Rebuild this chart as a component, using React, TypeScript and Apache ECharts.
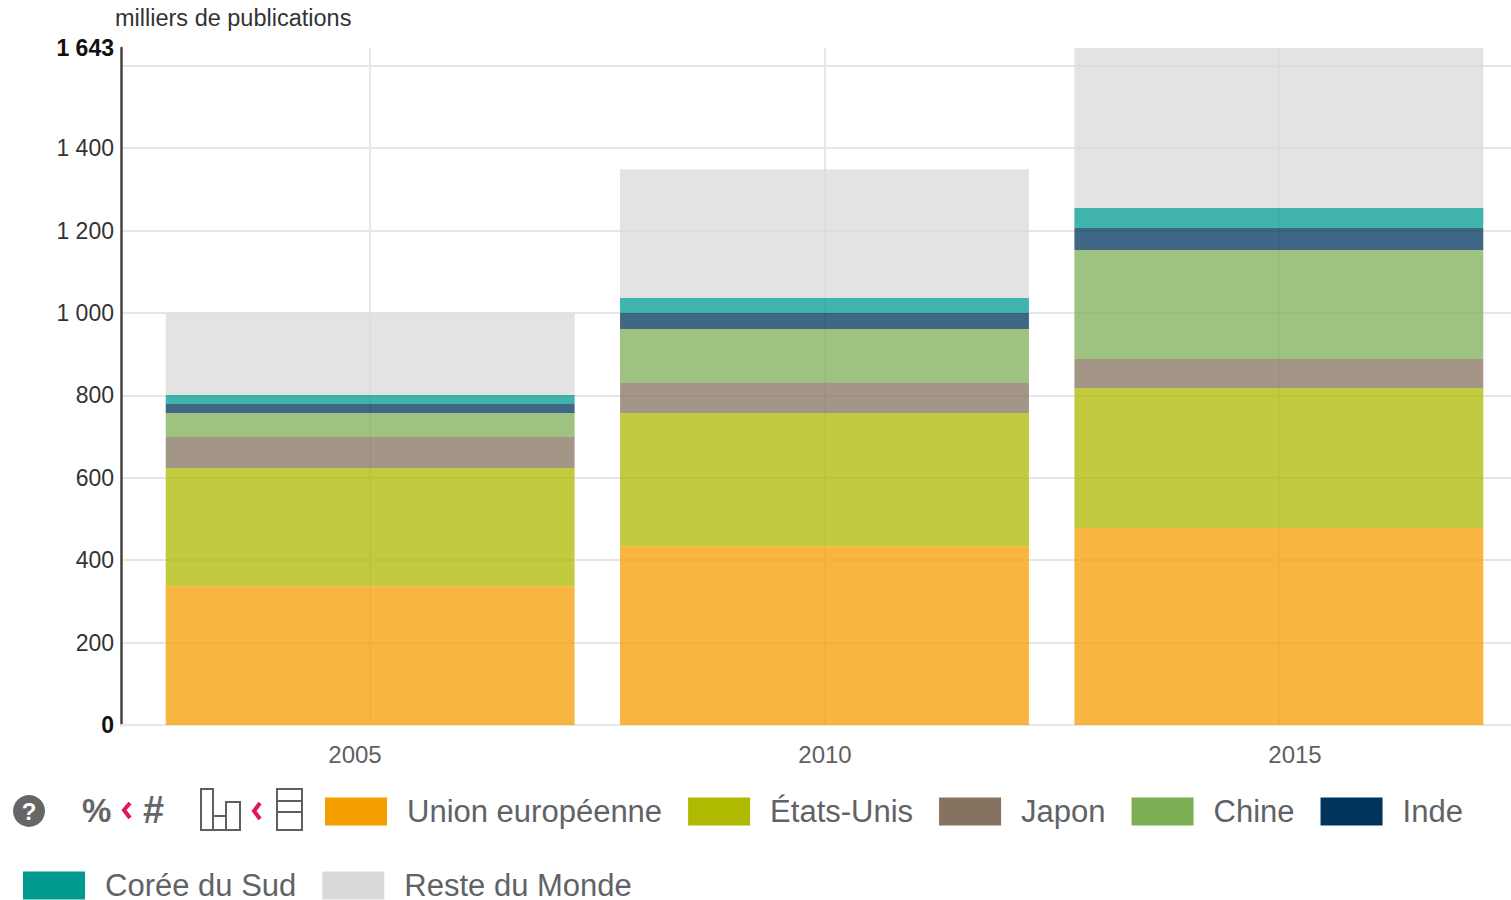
import React, { useEffect, useRef } from "react";
import * as echarts from "echarts";

const years = ["2005", "2010", "2015"];
const ue = [337, 434, 478];
const usa = [287, 323, 340];
const japon = [75, 75, 70];
const chine = [58, 129, 265];
const inde = [22, 39, 53];
const coree = [22, 36, 49];
const reste = [199, 313, 388];
const yMax = 1643;

const seriesDefs: [string, number[], string][] = [
  ["Union européenne", ue, "#f59e00"],
  ["États-Unis", usa, "#aeb900"],
  ["Japon", japon, "#86735f"],
  ["Chine", chine, "#7dae54"],
  ["Inde", inde, "#00345c"],
  ["Corée du Sud", coree, "#009a90"],
  ["Reste du Monde", reste, "#d9dadb"],
];

const FONT = "'Liberation Sans', Arial, sans-serif";
const GREY = "#5f5f5f";
const PINK = "#e0155e";

const fmtTick = (v: number) => {
  if (v === 1600) return "";
  const s = v >= 1000 ? `${Math.floor(v / 1000)} ${String(v % 1000).padStart(3, "0")}` : String(v);
  return v === 0 || v === yMax ? `{b|${s}}` : s;
};

const rect = (x: number, y: number, w: number, h: number) => ({
  type: "rect",
  shape: { x, y, width: w, height: h },
  style: { fill: "transparent", stroke: GREY, lineWidth: 2 },
});
const chevron = (pts: number[][]) => ({
  type: "polyline",
  shape: { points: pts },
  style: { fill: "none", stroke: PINK, lineWidth: 4 },
});

const legendBase = {
  orient: "horizontal" as const,
  itemWidth: 62,
  itemHeight: 28,
  itemGap: 26,
  selectedMode: false,
  icon: "rect",
  itemStyle: { opacity: 1 },
  textStyle: { fontFamily: FONT, fontSize: 31, lineHeight: 28, color: "#5f6368", padding: [0, 0, 0, 15] },
};

export default function App() {
  const ref = useRef<HTMLDivElement>(null);
  useEffect(() => {
    const chart = echarts.init(ref.current!, undefined, { renderer: "svg" });
    chart.setOption({
      animation: false,
      backgroundColor: "#fff",
      grid: [
        { left: 121, top: 48, right: 0, height: 677 },
        { left: 143, top: 48, width: 1363, height: 677 },
        { left: 355, top: 48, width: 940, height: 677 },
      ],
      xAxis: [
        {
          gridIndex: 0,
          type: "category",
          data: years,
          axisLine: { show: true, lineStyle: { color: "#e6e6e6", width: 2 } },
          axisTick: { show: false },
          axisLabel: { show: false },
        },
        {
          gridIndex: 1,
          type: "category",
          data: years,
          axisLine: { show: false },
          axisTick: { show: false },
          axisLabel: { show: false },
          splitLine: { show: true, alignWithLabel: true, lineStyle: { color: "#e6e6e6", width: 2 } },
        },
        {
          gridIndex: 2,
          type: "category",
          boundaryGap: false,
          data: years,
          axisLine: { show: false },
          axisTick: { show: false },
          splitLine: { show: false },
          axisLabel: { fontFamily: FONT, fontSize: 24, color: GREY, margin: 17 },
        },
      ],
      yAxis: [
        {
          gridIndex: 0,
          type: "value",
          min: 0,
          max: yMax,
          interval: 200,
          axisLine: { show: true, lineStyle: { color: "#444", width: 2.5 } },
          axisTick: { show: false },
          splitLine: { show: true, showMaxLine: false, lineStyle: { color: "#e6e6e6", width: 2 } },
          axisLabel: {
            fontFamily: FONT,
            fontSize: 23,
            color: "#333",
            margin: 7,
            formatter: fmtTick,
            rich: { b: { fontFamily: FONT, fontSize: 23, fontWeight: "bold", color: "#111" } },
          },
        },
        { gridIndex: 1, type: "value", min: 0, max: yMax, show: false, splitLine: { show: false } },
        { gridIndex: 2, type: "value", min: 0, max: yMax, show: false, splitLine: { show: false } },
      ],
      legend: [
        { ...legendBase, left: 320, top: 791, width: 1185, data: seriesDefs.slice(0, 5).map((s) => s[0]) },
        { ...legendBase, left: 18, top: 865, width: 1185, data: seriesDefs.slice(5).map((s) => s[0]) },
      ],
      series: seriesDefs.map(([name, data, color]) => ({
        name,
        type: "bar",
        stack: "total",
        xAxisIndex: 1,
        yAxisIndex: 1,
        barCategoryGap: "10%",
        data,
        itemStyle: { color, opacity: 0.75 },
      })),
      graphic: [
        { type: "text", left: 115, top: 6, style: { text: "milliers de publications", fontFamily: FONT, fontSize: 23.5, fill: "#333" } },
        { type: "circle", shape: { cx: 29, cy: 811, r: 16 }, style: { fill: "#666" } },
        { type: "text", x: 29, y: 811, style: { text: "?", fontFamily: FONT, fontSize: 24, fontWeight: "bold", fill: "#fff", align: "center", verticalAlign: "middle" } },
        { type: "text", x: 82, y: 810, style: { text: "%", fontFamily: FONT, fontSize: 33, fontWeight: "bold", fill: "#666", verticalAlign: "middle" } },
        chevron([[130, 803], [124, 810], [130, 818]]),
        { type: "text", x: 143, y: 810, style: { text: "#", fontFamily: FONT, fontSize: 38, fontWeight: "bold", fill: "#666", verticalAlign: "middle" } },
        rect(201, 789, 12, 41),
        rect(213, 816, 13, 14),
        rect(226, 802, 14, 28),
        chevron([[260, 803], [254, 811], [260, 819]]),
        rect(277, 789, 25, 41),
        { type: "line", shape: { x1: 277, y1: 801, x2: 302, y2: 801 }, style: { stroke: GREY, lineWidth: 2 } },
        { type: "line", shape: { x1: 277, y1: 812, x2: 302, y2: 812 }, style: { stroke: GREY, lineWidth: 2 } },
      ],
    });
    return () => chart.dispose();
  }, []);
  return <div ref={ref} style={{ position: "absolute", left: 0, top: 0, width: 1511, height: 900 }} />;
}
